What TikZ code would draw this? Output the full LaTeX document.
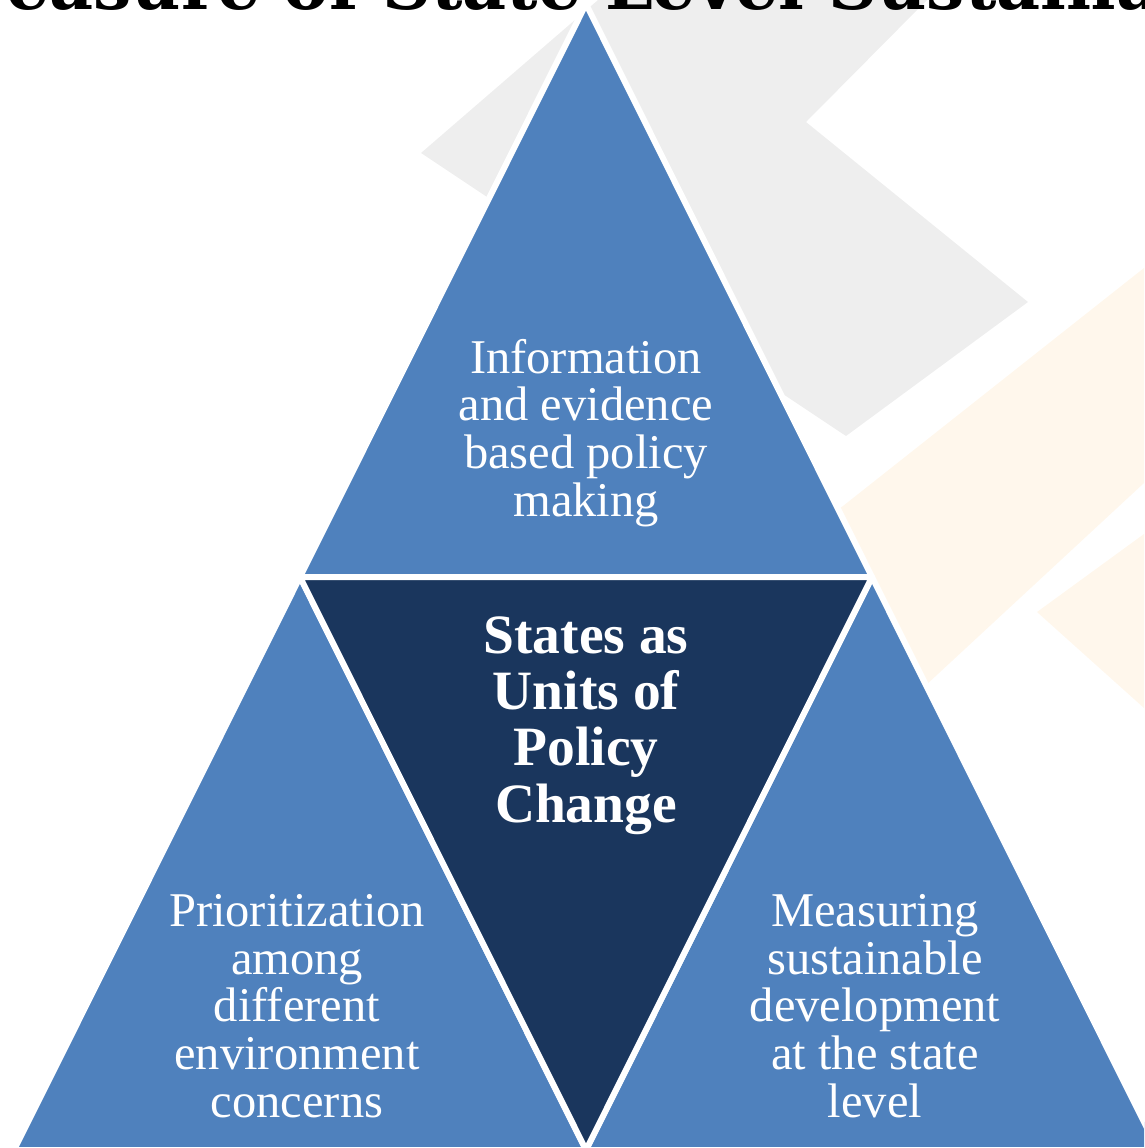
\documentclass[tikz,border=0pt]{standalone}
\usepackage{fontspec}
\setmainfont{Liberation Serif}
\newfontfamily\titlefont{DejaVu Serif}
\definecolor{triblue}{HTML}{4F81BD}
\definecolor{trinavy}{HTML}{1A365D}
\definecolor{bggray}{HTML}{EEEEEE}
\definecolor{bgcream}{HTML}{FFF7EC}
\begin{document}
\begin{tikzpicture}[x=1pt,y=-1pt,
  tri/.style={fill=triblue, draw=white, line width=6pt, line join=round},
  trimid/.style={tri, fill=trinavy},
  lbl/.style={text=white, align=center, inner sep=0pt, font=\fontsize{48.5}{47.6}\selectfont},
  lblbold/.style={text=white, align=center, inner sep=0pt, font=\bfseries\fontsize{55.5}{56.3}\selectfont},
  ttl/.style={text=black, inner sep=0pt, font=\titlefont\bfseries\fontsize{68}{74}\selectfont}]
\useasboundingbox (0,0) rectangle (1144,1148);
\clip (0,0) rectangle (1144,1148);
% faint background chevrons
\fill[bggray] (598,0) -- (927,0) -- (806,122) -- (1028,302) -- (846,436) -- (421,153) -- cycle;
\fill[bgcream] (843,506) -- (1144,268) -- (1144,483) -- (925,686) -- (800,650) -- (760,560) -- cycle;
\fill[bgcream] (1037,612) -- (1144,534) -- (1144,708) -- cycle;
% title (cropped at the top edge)
\node[ttl, anchor=base west] (title) at (6,10) {easure of State Level Sustaina};
% corner points
\coordinate (A) at (586,4);
\coordinate (B) at (14,1150);
\coordinate (C) at (1158,1150);
\coordinate (AB) at (300,577);
\coordinate (AC) at (872,577);
\coordinate (BC) at (586,1150);
% triangles
\draw[tri] (A) -- (AB) -- (AC) -- cycle;
\draw[tri] (AB) -- (B) -- (BC) -- cycle;
\draw[tri] (AC) -- (BC) -- (C) -- cycle;
\draw[trimid] (AB) -- (AC) -- (BC) -- cycle;
% labels (base anchor = baseline of the last line)
\node[lbl, anchor=base] (ttop) at (586,516) {Information\\and evidence\\based policy\\making};
\node[lblbold, anchor=base] (tmid) at (586,822) {States as\\Units of\\Policy\\Change};
\node[lbl, anchor=base] (tleft) at (297,1117) {Prioritization\\among\\different\\environment\\concerns};
\node[lbl, anchor=base] (tright) at (875,1117) {Measuring\\sustainable\\development\\at the state\\level};
\end{tikzpicture}
\end{document}
